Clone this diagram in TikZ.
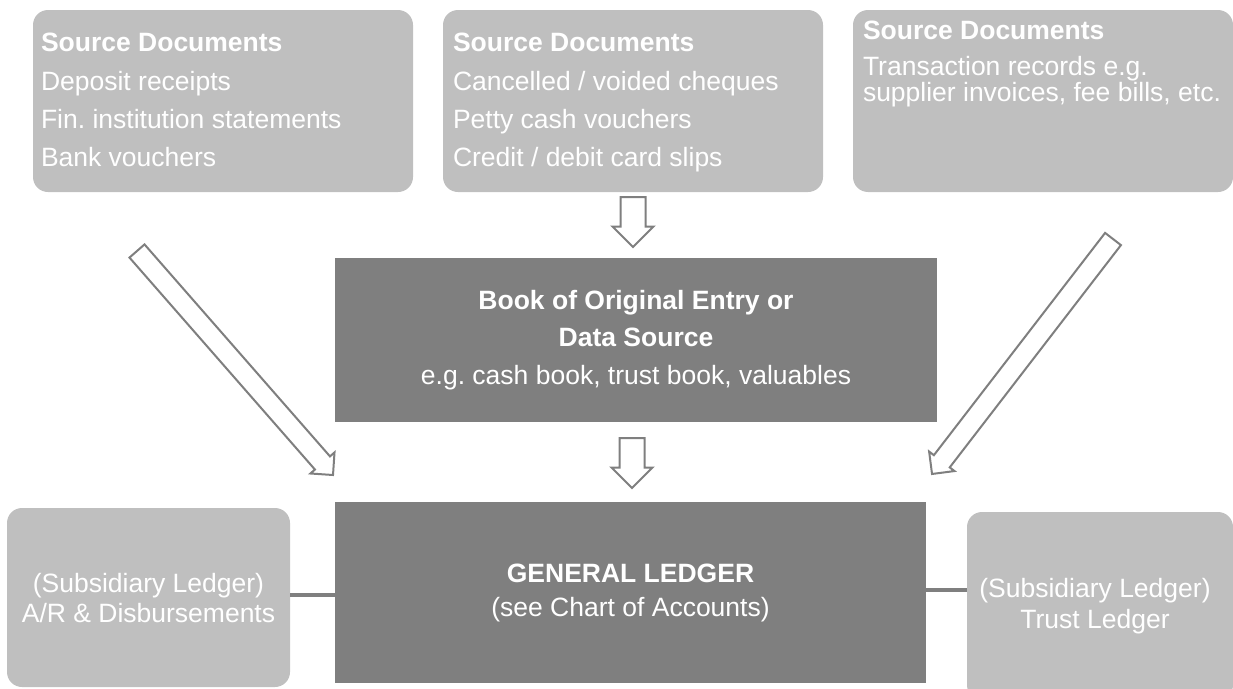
\documentclass[tikz,border=0pt]{standalone}
\usepackage{fontspec}
\setmainfont{Liberation Sans}
\usetikzlibrary{shapes.arrows,calc}
\definecolor{paleBox}{HTML}{BFBFBF}
\definecolor{darkBox}{HTML}{7F7F7F}
\definecolor{edgeGray}{HTML}{7F7F7F}
\frenchspacing
% hollow block arrow from one named point to another
\newcommand\blockarrow[4]{%
  \path let \p1=($(#3)-(#2)$) in
    node[#4, rotate={atan2(\y1,\x1)}, minimum height={veclen(\x1,\y1)}, anchor=tail] (#1) at (#2) {};}
\begin{document}
\begin{tikzpicture}[x=1pt,y=-1pt,
  every node/.style={inner sep=0pt, outer sep=0pt},
  softbox/.style={fill=paleBox, rounded corners=15pt},
  hardbox/.style={fill=darkBox},
  txt/.style={text=white, font=\fontsize{26.5}{32}\selectfont},
  hd/.style={text=white, font=\fontsize{26.5}{32}\selectfont\bfseries},
  barrow/.style={single arrow, draw=edgeGray, fill=white, line width=2pt,
    minimum width=0pt, inner xsep=0pt, single arrow tip angle=90},
  vbarrow/.style={barrow, inner ysep=11.5pt, single arrow head extend=8pt},
  dbarrow/.style={barrow, inner ysep=9pt, single arrow head extend=6pt},
  link/.style={draw=edgeGray, line width=4pt}
]
\clip (0,0) rectangle (1233,688);

% boxes
\node[softbox, minimum width=380, minimum height=182] (src1) at (223,101) {};
\node[softbox, minimum width=380, minimum height=182] (src2) at (633,101) {};
\node[softbox, minimum width=380, minimum height=182] (src3) at (1043,101) {};
\node[hardbox, minimum width=602, minimum height=164] (boe) at (636,340) {};
\node[hardbox, minimum width=591, minimum height=181] (gl) at (630.5,592.5) {};
\node[softbox, minimum width=283, minimum height=179] (sub1) at (148.5,597.5) {};
\node[softbox, minimum width=266, minimum height=188] (sub2) at (1100,606) {};

% source document texts
\node[hd, anchor=base west] (s1a) at (41,51) {Source Documents};
\node[txt, anchor=base west] (s1b) at (41,90) {Deposit receipts};
\node[txt, anchor=base west] (s1c) at (41,128) {Fin. institution statements};
\node[txt, anchor=base west] (s1d) at (41,166) {Bank vouchers};

\node[hd, anchor=base west] (s2a) at (453,51) {Source Documents};
\node[txt, anchor=base west] (s2b) at (453,90) {Cancelled / voided cheques};
\node[txt, anchor=base west] (s2c) at (453,128) {Petty cash vouchers};
\node[txt, anchor=base west] (s2d) at (453,166) {Credit / debit card slips};

\node[hd, anchor=base west] (s3a) at (863,39) {Source Documents};
\node[txt, anchor=base west] (s3b) at (863,75) {Transaction records e.g.};
\node[txt, anchor=base west] (s3c) at (863,101) {supplier invoices, fee bills, etc.};

% book of original entry
\node[hd, anchor=base] (b1) at (636,309) {Book of Original Entry or};
\node[hd, anchor=base] (b2) at (636,346) {Data Source};
\node[txt, anchor=base] (b3) at (636,384) {e.g. cash book, trust book, valuables};

% general ledger
\node[hd, anchor=base] (g1) at (630.5,582) {GENERAL LEDGER};
\node[txt, anchor=base] (g2) at (630.5,616) {(see Chart of Accounts)};

% subsidiary ledgers
\node[txt, anchor=base] (l1) at (148.5,592) {(Subsidiary Ledger)};
\node[txt, anchor=base] (l2) at (148.5,622) {A/R \& Disbursements};
\node[txt, anchor=base] (r1) at (1095,597) {(Subsidiary Ledger)};
\node[txt, anchor=base] (r2) at (1095,628) {Trust Ledger};

% ledger links
\coordinate (yl) at (0,595);
\coordinate (yr) at (0,590);
\draw[link] (sub1.east |- yl) -- (gl.west |- yl);
\draw[link] (gl.east |- yr) -- (sub2.west |- yr);

% flow arrows
\coordinate (a1s) at (633,197);  \coordinate (a1e) at (633,247);
\coordinate (a2s) at (632,438);  \coordinate (a2e) at (632,488);
\coordinate (a3s) at (137,251);  \coordinate (a3e) at (333,475);
\coordinate (a4s) at (1113,239); \coordinate (a4e) at (932,474);
\blockarrow{arr1}{a1s}{a1e}{vbarrow}
\blockarrow{arr2}{a2s}{a2e}{vbarrow}
\blockarrow{arr3}{a3s}{a3e}{dbarrow}
\blockarrow{arr4}{a4s}{a4e}{dbarrow}
\end{tikzpicture}
\end{document}
